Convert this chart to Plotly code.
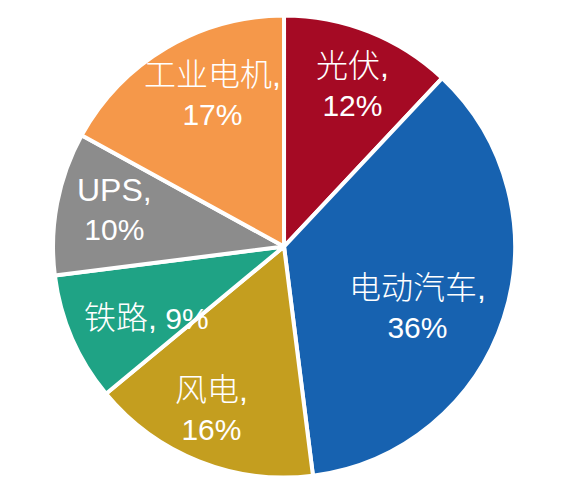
import math
import plotly.graph_objects as go

labels = ["光伏", "电动汽车", "风电", "铁路", "UPS", "工业电机"]
shares = [12, 36, 16, 9, 10, 17]
colors = ["#A50A24", "#1762B0", "#C49E1F", "#1FA385", "#8C8C8C", "#F5984A"]

# label placement: fraction of radius and small angle nudge (deg) per slice
label_r = [0.76, 0.635, 0.77, 0.67, 0.75, 0.73]
label_nudge = [1.4, 6.5, 2.3, -4.0, 1.7, 5.5]

W, H = 578, 488
dom_x = [0.0779, 0.8772]
dom_y = [0.0379, 0.9846]

fig = go.Figure(go.Pie(
    labels=labels,
    values=shares,
    textinfo="none",
    sort=False,
    direction="clockwise",
    rotation=0,
    marker=dict(colors=colors, line=dict(color="white", width=4)),
    domain=dict(x=dom_x, y=dom_y),
    showlegend=False,
    hoverinfo="label+percent",
))

# slice labels, placed at each slice's mid angle
cx = (dom_x[0] + dom_x[1]) / 2
cy = (dom_y[0] + dom_y[1]) / 2
radius = min((dom_x[1] - dom_x[0]) * W, (dom_y[1] - dom_y[0]) * H) / 2
total = sum(shares)
cum = 0
for name, v, fr, nd in zip(labels, shares, label_r, label_nudge):
    mid = (cum + v / 2) / total * 360 + nd
    cum += v
    head = f'<span style="font-size:32px">{name},</span>'
    if name == "铁路":
        txt = f"{head} {v}%"
    else:
        txt = f"{head}<br>{v}%"
    a = math.radians(mid)
    fig.add_annotation(
        x=cx + fr * radius * math.sin(a) / W,
        y=cy + fr * radius * math.cos(a) / H,
        xref="paper", yref="paper",
        text=txt, showarrow=False,
        xanchor="center", yanchor="middle",
        font=dict(family="Liberation Sans, Noto Sans CJK SC", size=30, color="white", weight=300),
    )

fig.update_layout(
    width=W,
    height=H,
    margin=dict(l=0, r=0, t=0, b=0),
    paper_bgcolor="white",
)

fig.write_html("out.html")
